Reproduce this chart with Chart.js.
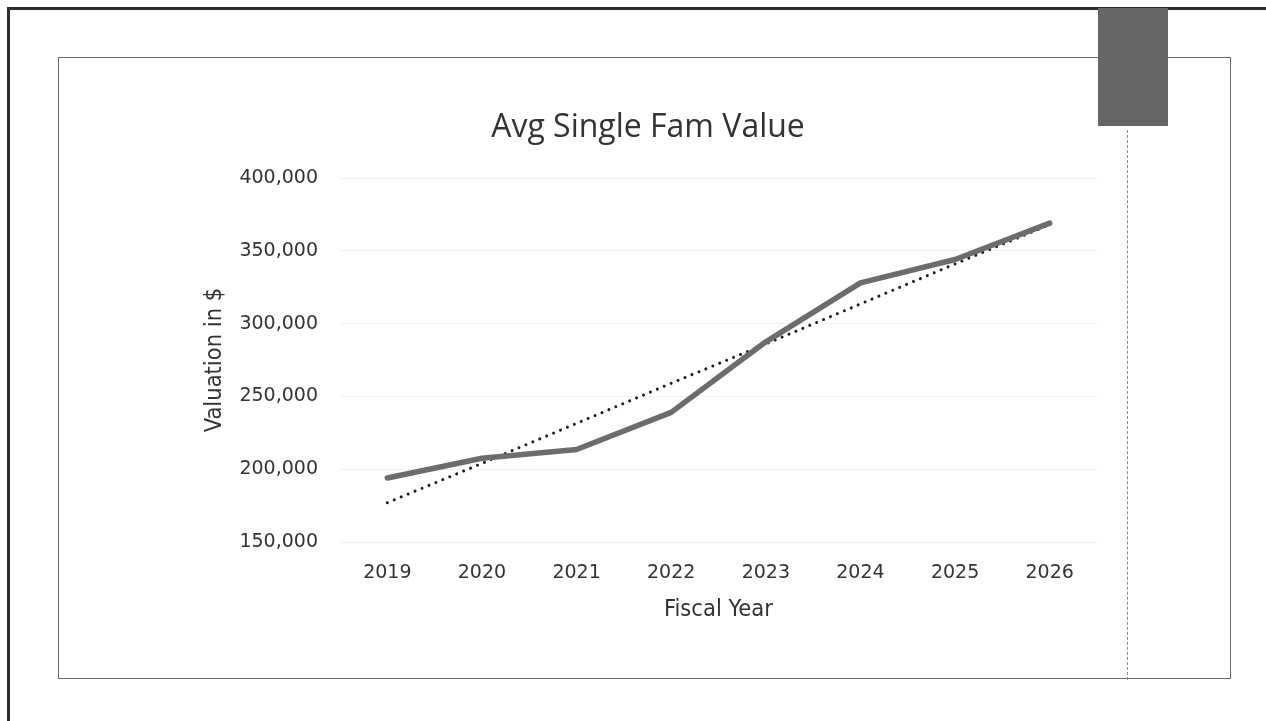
<!DOCTYPE html>
<html>
<head>
<meta charset="utf-8">
<script src="https://cdn.jsdelivr.net/npm/chart.js@4.4.1/dist/chart.umd.min.js"></script>
<style>
html,body{margin:0;padding:0;background:#fff;width:1266px;height:721px;overflow:hidden}
.outerTop{position:absolute;left:8px;top:7px;width:1258px;height:3px;background:#2e2e2e}
.outerLeft{position:absolute;left:7px;top:7px;width:3px;height:714px;background:#2e2e2e}
.inner{position:absolute;left:58px;top:57px;width:1171px;height:620px;border:1.5px solid #6a6a6a}
.tape{position:absolute;left:1098px;top:8px;width:70px;height:118px;background:#666}
.dash{position:absolute;left:1127px;top:130px;height:550px;border-left:1px dashed #8a8a8a}
#c{position:absolute;left:0;top:0}
</style>
</head>
<body>
<div class="outerTop"></div>
<div class="outerLeft"></div>
<div class="inner"></div>
<div class="dash"></div>
<canvas id="c" width="1266" height="721"></canvas>
<div class="tape"></div>
<script>
const years = ['2019', '2020', '2021', '2022', '2023', '2024', '2025', '2026'];
const avgValue = [194000, 207500, 213500, 239000, 287500, 328000, 344000, 369000];
const trendValue = [177000, 204000, 231500, 259000, 286000, 313500, 341000, 368000];
const yTicks = [150000, 200000, 250000, 300000, 350000, 400000];
const titleText = 'Avg Single Fam Value';
const xTitle = 'Fiscal Year';
const yTitle = 'Valuation in $';

const NARROW = "'Liberation Sans Narrow', 'DejaVu Sans Condensed', Roboto, sans-serif";
const TICKF = "'DejaVu Sans', sans-serif";

new Chart(document.getElementById('c'), {
  type: 'line',
  data: {
    labels: years,
    datasets: [
      {
        label: 'Avg Single Fam Value',
        data: avgValue,
        borderColor: '#6c6c6c',
        borderWidth: 5.5,
        pointRadius: 0,
        tension: 0,
        borderCapStyle: 'round',
        borderJoinStyle: 'round',
        fill: false,
        yAxisID: 'y'
      },
      {
        label: 'Linear trend',
        data: trendValue,
        borderColor: '#1c1c1c',
        borderWidth: 3,
        borderDash: [0.01, 7.5],
        borderCapStyle: 'round',
        pointRadius: 0,
        tension: 0,
        fill: false,
        yAxisID: 'y'
      }
    ]
  },
  options: {
    responsive: false,
    animation: false,
    layout: { padding: { left: 30, right: 0, top: 0, bottom: 0 } },
    plugins: {
      legend: { display: false },
      tooltip: { enabled: false },
      title: {
        display: true,
        text: titleText,
        color: '#333',
        font: { family: "'Open Sans', sans-serif", size: 32, weight: 'normal' },
        padding: { top: 108.8, bottom: 30.8 }
      }
    },
    scales: {
      x: {
        type: 'category',
        offset: true,
        grid: { display: false, drawTicks: false },
        border: { display: false },
        ticks: { color: '#333', font: { family: TICKF, size: 19 }, padding: 20, maxRotation: 0, autoSkip: false },
        title: { display: true, text: xTitle, color: '#333', font: { family: NARROW, size: 23.5 }, padding: { top: 0, bottom: 96.9 } },
        afterFit(s) { s.height = 179; }
      },
      y: {
        type: 'linear',
        position: 'left',
        min: 150000,
        max: 400000,
        afterBuildTicks(s) { s.ticks = yTicks.map(v => ({ value: v })); },
        grid: { color: '#efefef', lineWidth: 1, drawTicks: false },
        border: { display: false },
        ticks: { color: '#333', font: { family: TICKF, size: 19 }, padding: 22, callback: v => Number(v).toLocaleString('en-US') },
        title: { display: true, text: yTitle, color: '#333', font: { family: NARROW, size: 23.5 }, padding: { top: 170.9, bottom: 0 } },
        afterFit(s) { s.width = 310; }
      },
      yR: {
        type: 'linear',
        position: 'right',
        display: true,
        grid: { display: false, drawOnChartArea: false, drawTicks: false },
        border: { display: false },
        ticks: { display: false },
        afterFit(s) { s.width = 169; }
      }
    }
  }
});
</script>
</body>
</html>
